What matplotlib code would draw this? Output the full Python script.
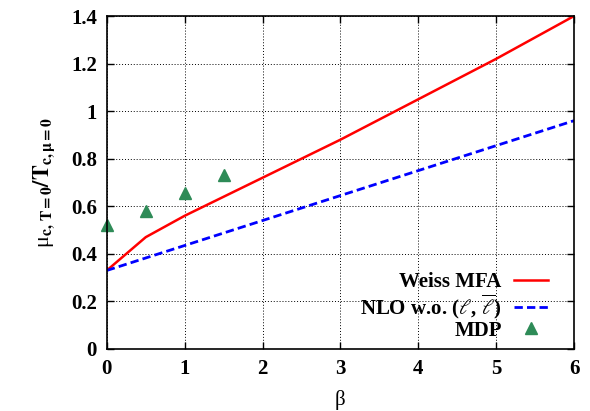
import matplotlib
matplotlib.use('Agg')
import matplotlib.pyplot as plt

plt.rcParams['font.family'] = ['Liberation Serif', 'DejaVu Serif']
plt.rcParams['mathtext.fontset'] = 'stix'
plt.rcParams['mathtext.default'] = 'regular'

# Weiss MFA
beta_mfa = [0, 0.5, 1, 1.5, 2, 3, 4, 5, 6]
mu_mfa = [0.33, 0.47, 0.56, 0.64, 0.72, 0.88, 1.05, 1.22, 1.40]
# NLO w.o. (l, lbar)
beta_nlo = [0, 6]
mu_nlo = [0.33, 0.96]
# MDP
beta_mdp = [0, 0.5, 1, 1.5]
mu_mdp = [0.52, 0.58, 0.655, 0.73]

fig = plt.figure(figsize=(5.9, 4.11), dpi=100)
ax = fig.add_axes([0.181, 0.151, 0.792, 0.810])

ax.plot(beta_mfa, mu_mfa, color='#ff0000', lw=1.8, label='Weiss MFA')
ax.plot(beta_nlo, mu_nlo, color='#0000ff', lw=2.0, ls=(0, (3, 1.5)),
        label=r'NLO w.o. $(\mathit{\ell},\,\overline{\mathit{\ell}})$')
ax.plot(beta_mdp, mu_mdp, ls='none', marker='^', ms=8, color='#2e8b57',
        label='MDP', clip_on=False)

ax.set_xlim(0, 6)
ax.set_ylim(0, 1.4)
ax.set_xticks(range(0, 7))
ax.set_yticks([0, 0.2, 0.4, 0.6, 0.8, 1, 1.2, 1.4])
ax.set_yticklabels(['0', '0.2', '0.4', '0.6', '0.8', '1', '1.2', '1.4'])
ax.grid(True, color='black', ls=(0, (1, 2)), lw=0.7)
ax.tick_params(direction='in', top=True, right=True, length=5, width=1,
               labelsize=15, pad=7)
for lab in ax.get_xticklabels() + ax.get_yticklabels():
    lab.set_fontweight('bold')
for s in ax.spines.values():
    s.set_linewidth(1.2)

ax.set_xlabel('β', fontsize=15, labelpad=8)
ax.set_ylabel(r'μ$_{\mathbf{c,\,T=0}}$$\mathbf{/T}_{\mathbf{c,μ=0}}$',
              fontsize=16, labelpad=10)

leg = ax.legend(loc='lower right', bbox_to_anchor=(0.961, 0.0),
                frameon=False, markerfirst=False,
                prop={'weight': 'bold', 'size': 15}, handlelength=1.6,
                labelspacing=0.0, borderaxespad=0.0, handletextpad=0.6)

fig.savefig('out.png', dpi=100)
